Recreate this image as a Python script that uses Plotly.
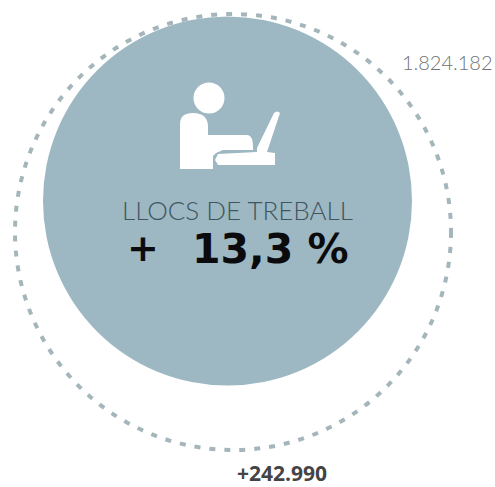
import plotly.graph_objects as go

# Figures shown on the graphic
title = "LLOCS DE TREBALL"
plus_sign = "+"
pct_change = "13,3 %"
total_jobs = "1.824.182"
added_jobs = "+242.990"

WIDTH, HEIGHT = 495, 487
FILL = "#9db8c2"
DASH = "#a4b6bb"

# Circles as (centre x, centre y, radius) in page pixels
inner_circle = (227.5, 201, 184.5)
outer_circle = (233, 232, 218)


def circle(c, **kw):
    x, y, r = c
    return dict(type="circle", xref="x", yref="y", x0=x - r, x1=x + r, y0=y - r, y1=y + r, **kw)


# Pictogram of a person at a laptop
body = ("M180 169 L180 124 Q180 113 193 113 Q208 113 208 127 L208 135 L248 135 "
        "Q253 136 253 147 L253 150 L223 150 L216 153 L213 156 L213 169 Z")
laptop = ("M257 148 L274 113 Q277 110 280 113 L267 152 L275 153 L275 165 L218 165 "
          "L215 160 L218 154 L257 152 Z")

shapes = [
    circle(outer_circle, line=dict(color=DASH, width=4, dash="6px,9px"), fillcolor="rgba(0,0,0,0)"),
    circle(inner_circle, line=dict(width=0), fillcolor=FILL),
    circle((209, 98, 15.5), line=dict(width=0), fillcolor="white"),
    dict(type="path", xref="x", yref="y", path=body, fillcolor="white", line=dict(width=0)),
    dict(type="path", xref="x", yref="y", path=laptop, fillcolor="white", line=dict(width=0)),
]


def label(text, x, y, size, color, family, weight):
    return dict(text=text, x=x, y=y, xref="x", yref="y", showarrow=False,
                xanchor="center", yanchor="middle",
                font=dict(size=size, color=color, family=family, weight=weight))


annotations = [
    label(title, 237, 210, 26, "#3f555f", "Lato", 300),
    label(plus_sign, 143, 248, 38, "#0b0b0d", "DejaVu Sans", 700),
    label(pct_change, 270, 249, 41, "#0b0b0d", "DejaVu Sans", 700),
    label(total_jobs, 447, 62, 20, "#6f7376", "Lato", 300),
    label(added_jobs, 282, 473, 21, "#444446", "Open Sans", 700),
]

fig = go.Figure()
fig.update_layout(
    width=WIDTH, height=HEIGHT,
    margin=dict(l=0, r=0, t=0, b=0),
    paper_bgcolor="white", plot_bgcolor="white",
    xaxis=dict(range=[0, WIDTH], visible=False, fixedrange=True),
    yaxis=dict(range=[HEIGHT, 0], visible=False, fixedrange=True),
    shapes=shapes, annotations=annotations, showlegend=False,
)
fig.write_html("out.html", config=dict(displayModeBar=False))
